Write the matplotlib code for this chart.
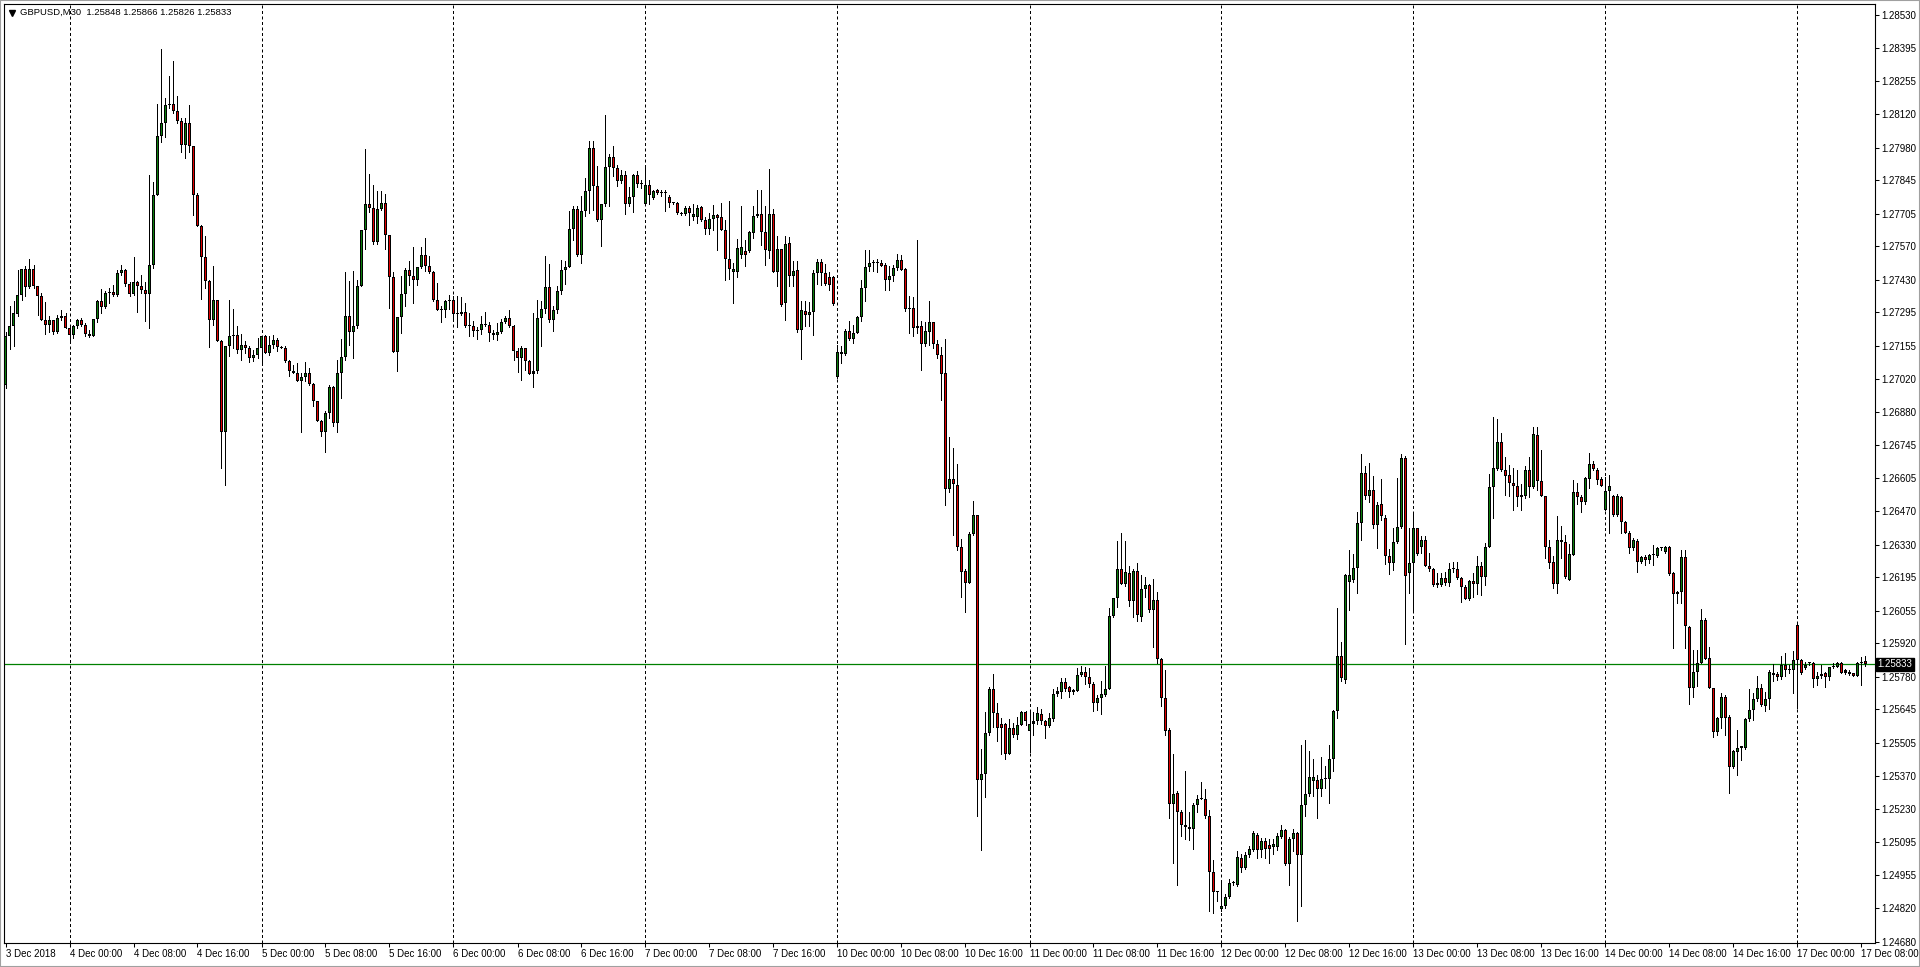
import numpy as np
import pandas as pd
import matplotlib
matplotlib.use('Agg')
import matplotlib.pyplot as plt
from matplotlib.lines import Line2D
from matplotlib.patches import Rectangle
from matplotlib.transforms import blended_transform_factory

plt.rcParams['font.family'] = ['Liberation Sans', 'DejaVu Sans']

# GBPUSD M30, prices stored as points above 1.20000 (7195 -> 1.27195)
symbol = 'GBPUSD,M30'
last_ohlc = ['1.25848', '1.25866', '1.25826', '1.25833']
bid = 1.25833

open_pts = [
    6995, 7195, 7240, 7290, 7367, 7475, 7401, 7475, 7403, 7362, 7262, 7243, 7262, 7214, 7271, 7280,
    7230, 7202, 7240, 7262, 7241, 7207, 7196, 7268, 7344, 7317, 7376, 7380, 7366, 7459, 7473, 7413,
    7373, 7420, 7406, 7389, 7373, 7492, 7785, 8027, 8082, 8157, 8162, 8131, 8092, 7990, 8082, 7985,
    7783, 7653, 7525, 7424, 7262, 7348, 7177, 6800, 7157, 7198, 7202, 7137, 7161, 7147, 7105, 7119,
    7147, 7195, 7126, 7161, 7182, 7152, 7148, 7092, 7050, 7045, 7008, 7026, 7043, 6999, 6925, 6842,
    6800, 6877, 6985, 6835, 7043, 7108, 7279, 7212, 7240, 7403, 7636, 7746, 7728, 7586, 7725, 7750,
    7617, 7442, 7129, 7276, 7373, 7473, 7448, 7428, 7484, 7535, 7489, 7463, 7345, 7306, 7304, 7341,
    7345, 7290, 7288, 7296, 7240, 7237, 7217, 7221, 7247, 7244, 7209, 7200, 7213, 7255, 7272, 7240,
    7133, 7105, 7147, 7092, 7040, 7050, 7272, 7309, 7401, 7262, 7306, 7383, 7473, 7484, 7642, 7725,
    7535, 7715, 7798, 7979, 7822, 7681, 7747, 7900, 7941, 7895, 7840, 7866, 7744, 7775, 7866, 7827,
    7744, 7826, 7770, 7802, 7790, 7791, 7775, 7750, 7750, 7707, 7703, 7730, 7692, 7692, 7733, 7680,
    7640, 7685, 7701, 7691, 7639, 7517, 7464, 7464, 7532, 7551, 7549, 7625, 7694, 7704, 7631, 7552,
    7704, 7464, 7559, 7334, 7584, 7445, 7473, 7223, 7303, 7284, 7297, 7459, 7505, 7459, 7442, 7442,
    7026, 7130, 7121, 7219, 7184, 7209, 7276, 7396, 7482, 7500, 7500, 7501, 7493, 7431, 7445, 7480,
    7514, 7475, 7309, 7313, 7229, 7237, 7165, 7212, 7254, 7165, 7116, 7042, 6560, 6602, 6579, 6321,
    6219, 6170, 6376, 6453, 5353, 5376, 5546, 5731, 5628, 5585, 5585, 5459, 5566, 5537, 5581, 5634,
    5556, 5585, 5595, 5624, 5595, 5575, 5604, 5711, 5717, 5760, 5736, 5717, 5721, 5789, 5802, 5779,
    5750, 5672, 5692, 5705, 5731, 6035, 6108, 6230, 6166, 6211, 6095, 6219, 6031, 6147, 6163, 6060,
    6099, 5853, 5692, 5560, 5252, 5298, 5217, 5163, 5155, 5149, 5246, 5271, 5271, 5202, 4969, 4884,
    4814, 4826, 4864, 4922, 4917, 5027, 4984, 5039, 5062, 5124, 5062, 5097, 5081, 5072, 5072, 5116,
    5143, 5004, 5105, 5130, 5039, 5246, 5295, 5349, 5353, 5314, 5356, 5356, 5440, 5639, 5866, 5769,
    6176, 6182, 6234, 6418, 6628, 6531, 6558, 6413, 6500, 6442, 6283, 6254, 6341, 6403, 6690, 6211,
    6253, 6398, 6322, 6350, 6242, 6228, 6170, 6160, 6190, 6170, 6228, 6228, 6190, 6152, 6103, 6177,
    6166, 6239, 6195, 6319, 6569, 6644, 6756, 6638, 6619, 6588, 6574, 6536, 6530, 6641, 6569, 6786,
    6595, 6533, 6322, 6257, 6166, 6350, 6339, 6184, 6288, 6548, 6527, 6505, 6602, 6666, 6641, 6602,
    6475, 6551, 6530, 6454, 6527, 6422, 6380, 6315, 6347, 6256, 6278, 6264, 6288, 6281, 6315, 6301,
    6322, 6214, 6135, 6135, 6278, 5987, 5733, 5800, 5837, 6017, 5858, 5733, 5553, 5608, 5698, 5613,
    5405, 5466, 5484, 5484, 5604, 5643, 5687, 5733, 5660, 5687, 5798, 5793, 5779, 5830, 5809, 5807,
    5996, 5851, 5816, 5837, 5837, 5771, 5793, 5796, 5779, 5823, 5823, 5837, 5807, 5802, 5795, 5782,
    5837, 5848,
]

high_pts = [
    7212, 7320, 7341, 7473, 7475, 7487, 7518, 7492, 7403, 7376, 7340, 7279, 7262, 7284, 7304, 7293,
    7237, 7244, 7268, 7270, 7251, 7223, 7268, 7348, 7392, 7386, 7397, 7410, 7473, 7493, 7475, 7420,
    7525, 7424, 7452, 7420, 7868, 7836, 8163, 8390, 8186, 8279, 8340, 8196, 8103, 8103, 8159, 7988,
    7791, 7660, 7614, 7431, 7489, 7348, 7182, 7157, 7348, 7309, 7240, 7206, 7175, 7157, 7140, 7189,
    7198, 7202, 7195, 7202, 7189, 7157, 7157, 7096, 7078, 7085, 7043, 7087, 7064, 7001, 6925, 6849,
    6884, 6995, 6988, 7096, 7184, 7462, 7424, 7466, 7431, 7636, 7974, 7870, 7825, 7799, 7801, 7786,
    7617, 7463, 7276, 7448, 7478, 7507, 7567, 7484, 7567, 7604, 7531, 7467, 7417, 7320, 7345, 7369,
    7362, 7362, 7359, 7334, 7292, 7258, 7233, 7281, 7298, 7254, 7223, 7251, 7267, 7279, 7306, 7242,
    7147, 7154, 7147, 7096, 7292, 7348, 7341, 7528, 7498, 7320, 7403, 7514, 7510, 7715, 7736, 7739,
    7780, 7854, 8006, 8006, 7905, 7747, 8114, 7955, 7988, 7909, 7888, 7881, 7816, 7872, 7881, 7847,
    7905, 7844, 7805, 7808, 7805, 7802, 7783, 7753, 7755, 7711, 7736, 7736, 7747, 7741, 7736, 7692,
    7708, 7743, 7704, 7750, 7678, 7757, 7500, 7600, 7739, 7594, 7632, 7736, 7805, 7805, 7736, 7891,
    7725, 7614, 7559, 7614, 7608, 7507, 7507, 7341, 7341, 7338, 7470, 7517, 7517, 7498, 7462, 7445,
    7161, 7154, 7226, 7258, 7244, 7281, 7428, 7553, 7553, 7514, 7517, 7514, 7500, 7487, 7494, 7539,
    7534, 7480, 7362, 7359, 7595, 7258, 7254, 7341, 7254, 7179, 7151, 7184, 6777, 6732, 6666, 6354,
    6228, 6383, 6511, 6453, 5479, 5634, 5740, 5794, 5672, 5608, 5589, 5604, 5589, 5614, 5639, 5639,
    5634, 5634, 5653, 5647, 5601, 5628, 5731, 5740, 5775, 5775, 5744, 5731, 5818, 5827, 5821, 5818,
    5760, 5705, 5763, 5827, 6066, 6108, 6345, 6380, 6345, 6240, 6228, 6254, 6205, 6196, 6166, 6186,
    6132, 5860, 5808, 5566, 5459, 5304, 5227, 5391, 5217, 5256, 5291, 5343, 5314, 5227, 5019, 4891,
    4930, 4878, 4942, 4930, 5058, 5046, 5052, 5077, 5139, 5130, 5110, 5110, 5105, 5105, 5130, 5163,
    5149, 5116, 5149, 5136, 5498, 5517, 5473, 5440, 5372, 5446, 5411, 5498, 5643, 6066, 5924, 6209,
    6306, 6292, 6467, 6705, 6655, 6670, 6616, 6506, 6602, 6453, 6312, 6399, 6608, 6705, 6699, 6398,
    6458, 6398, 6367, 6367, 6297, 6232, 6214, 6214, 6218, 6253, 6256, 6256, 6197, 6163, 6184, 6211,
    6283, 6256, 6336, 6624, 6860, 6853, 6793, 6696, 6662, 6648, 6641, 6583, 6658, 6694, 6818, 6818,
    6724, 6533, 6350, 6281, 6447, 6408, 6371, 6333, 6599, 6585, 6537, 6610, 6710, 6676, 6648, 6613,
    6613, 6620, 6537, 6541, 6530, 6426, 6385, 6357, 6353, 6283, 6288, 6292, 6329, 6322, 6322, 6325,
    6325, 6218, 6139, 6306, 6308, 5990, 5893, 5893, 6062, 6024, 5906, 5733, 5615, 5712, 5705, 5622,
    5477, 5560, 5493, 5608, 5729, 5712, 5784, 5751, 5719, 5807, 5834, 5802, 5868, 5879, 5830, 5886,
    6006, 5854, 5844, 5844, 5844, 5802, 5830, 5802, 5823, 5837, 5844, 5844, 5812, 5807, 5798, 5840,
    5862, 5866,
]

low_pts = [
    6981, 7143, 7157, 7279, 7348, 7362, 7397, 7397, 7286, 7262, 7204, 7212, 7204, 7209, 7265, 7229,
    7182, 7189, 7230, 7237, 7198, 7193, 7196, 7254, 7292, 7313, 7334, 7362, 7362, 7452, 7403, 7365,
    7369, 7295, 7376, 7258, 7230, 7481, 7783, 8002, 8025, 8145, 8124, 8082, 7961, 7937, 7961, 7699,
    7653, 7351, 7397, 7151, 7244, 7175, 6648, 6579, 7112, 7147, 7126, 7096, 7126, 7087, 7092, 7105,
    7087, 7126, 7119, 7147, 7133, 7147, 7087, 7029, 7043, 7008, 6796, 7008, 6994, 6904, 6842, 6780,
    6713, 6856, 6821, 6800, 6939, 7098, 7161, 7105, 7230, 7403, 7560, 7711, 7581, 7581, 7722, 7559,
    7313, 7129, 7050, 7209, 7320, 7410, 7334, 7410, 7480, 7466, 7459, 7341, 7304, 7254, 7276, 7309,
    7272, 7234, 7285, 7234, 7195, 7196, 7184, 7207, 7237, 7175, 7184, 7179, 7209, 7251, 7234, 7098,
    7046, 7015, 7054, 7040, 6987, 7043, 7154, 7292, 7254, 7216, 7292, 7373, 7414, 7484, 7595, 7528,
    7500, 7694, 7708, 7722, 7674, 7572, 7736, 7736, 7861, 7822, 7833, 7705, 7739, 7711, 7816, 7812,
    7744, 7747, 7768, 7787, 7778, 7715, 7733, 7747, 7705, 7700, 7700, 7660, 7678, 7667, 7675, 7622,
    7622, 7636, 7556, 7636, 7428, 7434, 7334, 7442, 7521, 7486, 7546, 7604, 7692, 7577, 7491, 7521,
    7462, 7406, 7323, 7262, 7403, 7403, 7212, 7101, 7237, 7240, 7202, 7414, 7410, 7410, 7390, 7327,
    7022, 7085, 7119, 7182, 7168, 7209, 7258, 7341, 7466, 7466, 7462, 7487, 7390, 7387, 7424, 7473,
    7470, 7299, 7209, 7195, 7209, 7057, 7154, 7161, 7147, 7105, 6932, 6496, 6548, 6370, 6306, 6112,
    6050, 6170, 6370, 5202, 5062, 5279, 5537, 5570, 5512, 5459, 5440, 5459, 5531, 5523, 5581, 5581,
    5469, 5537, 5585, 5585, 5527, 5570, 5595, 5701, 5692, 5721, 5698, 5711, 5721, 5783, 5750, 5740,
    5639, 5643, 5624, 5701, 5731, 6031, 6070, 6166, 6157, 6073, 6031, 6011, 6011, 6112, 6050, 5905,
    5837, 5659, 5537, 5194, 5008, 4917, 5120, 5105, 5101, 5066, 5217, 5271, 5194, 4806, 4800, 4849,
    4806, 4820, 4859, 4917, 4911, 4969, 4981, 5033, 5058, 5027, 5033, 5027, 5008, 5043, 5062, 5110,
    5000, 4917, 5058, 4766, 4826, 5202, 5285, 5285, 5194, 5285, 5318, 5256, 5388, 5608, 5763, 5756,
    6060, 6176, 6128, 6351, 6519, 6506, 6399, 6316, 6434, 6248, 6209, 6225, 6337, 6399, 5918, 6128,
    6049, 6288, 6297, 6242, 6222, 6159, 6153, 6159, 6163, 6159, 6218, 6186, 6093, 6103, 6100, 6114,
    6125, 6121, 6163, 6319, 6440, 6641, 6634, 6537, 6530, 6475, 6491, 6475, 6523, 6527, 6565, 6558,
    6530, 6274, 6232, 6149, 6128, 6274, 6190, 6181, 6288, 6500, 6464, 6500, 6565, 6638, 6583, 6572,
    6472, 6380, 6447, 6447, 6380, 6378, 6297, 6308, 6218, 6253, 6246, 6253, 6246, 6278, 6308, 6297,
    6204, 5901, 6089, 6089, 5899, 5668, 5696, 5743, 5837, 5854, 5733, 5532, 5539, 5567, 5539, 5297,
    5401, 5373, 5435, 5479, 5595, 5599, 5678, 5660, 5640, 5646, 5761, 5768, 5771, 5784, 5798, 5712,
    5650, 5793, 5812, 5830, 5737, 5747, 5775, 5740, 5768, 5816, 5820, 5795, 5793, 5789, 5782, 5782,
    5747, 5826,
]

close_pts = [
    7195, 7240, 7293, 7367, 7475, 7401, 7475, 7403, 7362, 7262, 7243, 7262, 7214, 7272, 7280, 7230,
    7202, 7240, 7262, 7241, 7207, 7196, 7268, 7344, 7317, 7376, 7380, 7366, 7459, 7473, 7413, 7373,
    7420, 7406, 7389, 7373, 7492, 7785, 8027, 8082, 8157, 8162, 8131, 8092, 7990, 8082, 7985, 7783,
    7653, 7525, 7424, 7262, 7348, 7177, 6800, 7157, 7198, 7202, 7137, 7161, 7147, 7105, 7119, 7147,
    7195, 7126, 7161, 7182, 7152, 7148, 7092, 7050, 7045, 7008, 7026, 7043, 6999, 6925, 6842, 6800,
    6877, 6985, 6835, 7043, 7108, 7279, 7212, 7240, 7403, 7636, 7746, 7728, 7586, 7725, 7750, 7617,
    7442, 7129, 7276, 7373, 7473, 7448, 7428, 7484, 7535, 7489, 7463, 7345, 7306, 7304, 7341, 7345,
    7290, 7288, 7296, 7240, 7237, 7217, 7221, 7247, 7244, 7209, 7200, 7213, 7255, 7272, 7240, 7133,
    7105, 7147, 7092, 7040, 7050, 7272, 7309, 7401, 7262, 7306, 7383, 7473, 7484, 7642, 7725, 7535,
    7715, 7798, 7979, 7822, 7681, 7747, 7900, 7941, 7895, 7840, 7866, 7744, 7775, 7866, 7827, 7832,
    7826, 7782, 7801, 7790, 7791, 7790, 7750, 7750, 7707, 7706, 7730, 7708, 7703, 7730, 7679, 7640,
    7685, 7701, 7686, 7639, 7517, 7475, 7475, 7563, 7568, 7532, 7628, 7697, 7704, 7628, 7553, 7704,
    7464, 7559, 7327, 7581, 7445, 7468, 7220, 7306, 7284, 7297, 7459, 7505, 7459, 7414, 7409, 7330,
    7130, 7121, 7219, 7184, 7209, 7276, 7396, 7482, 7500, 7500, 7501, 7489, 7431, 7445, 7480, 7514,
    7473, 7309, 7312, 7231, 7237, 7165, 7216, 7254, 7165, 7116, 7038, 6560, 6602, 6583, 6321, 6215,
    6170, 6376, 6453, 5353, 5376, 5546, 5731, 5628, 5566, 5566, 5459, 5566, 5537, 5581, 5634, 5595,
    5585, 5595, 5628, 5595, 5575, 5608, 5711, 5721, 5760, 5731, 5717, 5725, 5789, 5802, 5779, 5750,
    5672, 5692, 5711, 5731, 6035, 6108, 6230, 6166, 6215, 6095, 6219, 6037, 6147, 6161, 6060, 6099,
    5853, 5692, 5556, 5252, 5295, 5217, 5163, 5155, 5149, 5246, 5271, 5271, 5202, 4969, 4884, 4884,
    4829, 4864, 4922, 4922, 5033, 4984, 5039, 5066, 5130, 5062, 5097, 5066, 5066, 5085, 5120, 5143,
    5004, 5105, 5130, 5039, 5246, 5295, 5362, 5362, 5314, 5356, 5356, 5440, 5639, 5866, 5775, 6205,
    6205, 6234, 6418, 6628, 6531, 6558, 6413, 6496, 6447, 6283, 6254, 6341, 6403, 6690, 6201, 6253,
    6398, 6292, 6350, 6242, 6228, 6160, 6160, 6190, 6170, 6228, 6228, 6190, 6152, 6103, 6177, 6166,
    6239, 6195, 6319, 6569, 6648, 6756, 6638, 6616, 6588, 6574, 6527, 6527, 6641, 6569, 6791, 6595,
    6533, 6322, 6253, 6166, 6350, 6339, 6195, 6292, 6548, 6527, 6505, 6606, 6666, 6644, 6599, 6574,
    6551, 6574, 6454, 6530, 6422, 6380, 6315, 6350, 6256, 6278, 6264, 6288, 6287, 6315, 6316, 6319,
    6209, 6124, 6124, 6278, 5990, 5733, 5800, 5837, 6017, 5854, 5733, 5553, 5608, 5698, 5608, 5405,
    5470, 5484, 5493, 5604, 5643, 5687, 5733, 5664, 5687, 5802, 5789, 5779, 5830, 5809, 5810, 5851,
    5851, 5798, 5830, 5837, 5771, 5784, 5782, 5779, 5823, 5823, 5837, 5798, 5798, 5793, 5784, 5837,
    5844, 5833,
]

# MT4 price scale labels on the right
ytick_labels = ['1.28530', '1.28395', '1.28255', '1.28120', '1.27980', '1.27845', '1.27705',
                '1.27570', '1.27430', '1.27295', '1.27155', '1.27020', '1.26880', '1.26745',
                '1.26605', '1.26470', '1.26330', '1.26195', '1.26055', '1.25920', '1.25780',
                '1.25645', '1.25505', '1.25370', '1.25230', '1.25095', '1.24955', '1.24820',
                '1.24680']

# 30 minute bars, weekdays only
times = pd.date_range('2018-12-03 16:00', '2018-12-17 08:30', freq='30min')
times = times[times.dayofweek < 5]

o = 1.2 + np.array(open_pts) / 1e5
h = 1.2 + np.array(high_pts) / 1e5
l = 1.2 + np.array(low_pts) / 1e5
c = 1.2 + np.array(close_pts) / 1e5
n = len(times)
assert len(o) == len(h) == len(l) == len(c) == n, (len(o), len(h), len(l), len(c), n)
x = np.arange(n)

W, H = 1920, 967
fig = plt.figure(figsize=(W / 100, H / 100), dpi=100)
fig.patch.set_facecolor('white')
ax = fig.add_axes([4 / W, 1 - 943 / H, 1871 / W, 939 / H])
ax.set_facecolor('white')

ylo, yhi = 1.24674, 1.28577
ax.set_xlim(-0.375, 467.375)   # 4 px per bar
ax.set_ylim(ylo, yhi)
px = (yhi - ylo) / 939          # price per pixel

# day separators
for i, t in enumerate(times):
    if t.hour == 0 and t.minute == 0:
        ax.axvline(i, color='black', lw=0.72, ls=(0, (3, 2.5)), zorder=1)

# bid line
ax.axhline(bid, color='#008000', lw=0.9, zorder=2)

# candles: black wick, black 3px body with 1px coloured fill
up = c >= o
lo_b = np.minimum(o, c)
hgt = np.maximum(np.abs(c - o), px)
ax.vlines(x, l, h, color='black', lw=0.72, zorder=3, antialiased=False)
ax.bar(x, hgt, bottom=lo_b, width=0.75, color='black', linewidth=0,
       zorder=4, antialiased=False)
inner = hgt > 2.5 * px
ax.bar(x[inner], hgt[inner] - 2 * px, bottom=lo_b[inner] + px, width=0.25,
       color=np.where(up[inner], '#0b7d0b', '#e00000'), linewidth=0,
       zorder=5, antialiased=False)

# x ticks every 8 hours
xt, xl = [], []
for i, t in enumerate(times):
    if t.minute == 0 and t.hour % 8 == 0:
        xt.append(i)
        if i == 0:
            xl.append(f'{t.day} {t:%b} {t.year}')
        else:
            xl.append(f'{t.day} {t:%b} {t:%H:%M}')
ax.set_xticks(xt)
ax.set_xticklabels(xl, ha='left')
ax.tick_params(axis='x', direction='out', length=3, width=0.75, pad=1.5,
               labelsize=7, colors='black')

ax.yaxis.tick_right()
ax.set_yticks([float(s) for s in ytick_labels])
ax.set_yticklabels(ytick_labels)
ax.tick_params(axis='y', direction='out', length=3, width=0.75, pad=1.5,
               labelsize=7, colors='black')

for sp in ax.spines.values():
    sp.set_color('black')
    sp.set_linewidth(0.8)

# current price tag
tr = blended_transform_factory(ax.transAxes, ax.transData)
ax.text(1.0012, bid, f'{bid:.5f}', transform=tr, ha='left', va='center',
        fontsize=7, color='white', clip_on=False, zorder=10,
        bbox=dict(boxstyle='square,pad=0.15', facecolor='black', edgecolor='black'))

# header
fig.add_artist(Line2D([12 / W], [1 - 12.5 / H], marker='v', markersize=4.5,
                      color='black', transform=fig.transFigure))
fig.text(20 / W, 1 - 12.5 / H, symbol + '  ' + ' '.join(last_ohlc),
         fontsize=6.8, va='center', ha='left', color='black')

# window border
fig.add_artist(Rectangle((0, 0), 1, 1, transform=fig.transFigure, fill=False,
                         edgecolor='#a0a0a0', lw=1.5))

fig.savefig('out.png', dpi=100, facecolor='white')
